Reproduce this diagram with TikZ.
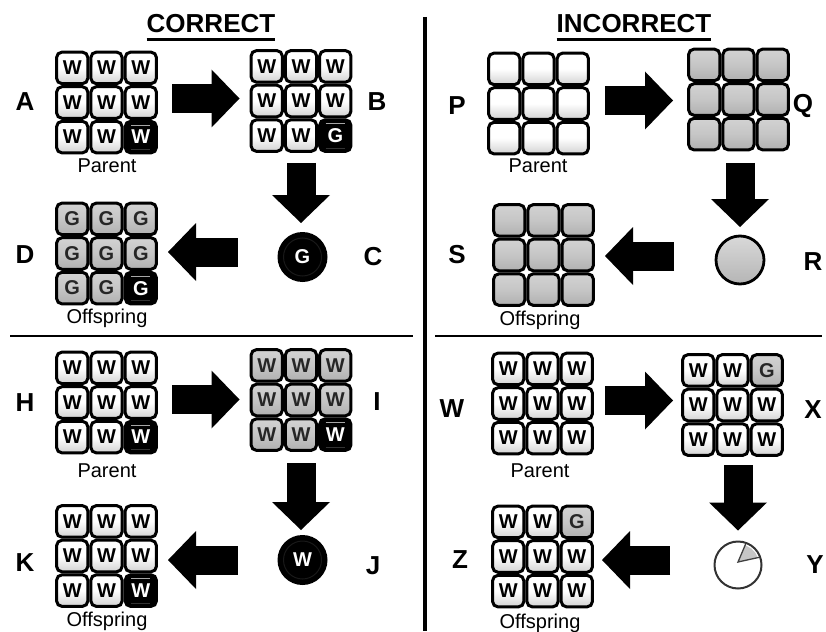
\documentclass[tikz,border=0pt]{standalone}
\usepackage{fontspec}
\setmainfont{Liberation Sans}
\usetikzlibrary{arrows.meta,calc}
\newcommand\cellgrid[4]{%
  \node[gridbox] (#1) at (#2,#3) {};
  \foreach \st/\tx [count=\i from 0] in {#4} {
    \pgfmathtruncatemacro\col{mod(\i,3)}
    \pgfmathtruncatemacro\row{div(\i,3)}
    \node[\st] (#1-\row-\col) at (#2+\col*34.3-34.3, #3+\row*34.6-34.6) {\tx};
  }%
}
\begin{document}
\begin{tikzpicture}[x=1pt,y=-1pt,
  gridbox/.style={minimum width=103pt, minimum height=104pt, inner sep=0pt, outer sep=0pt},
  cellbase/.style={draw=black, line width=3pt, rounded corners=5.5pt, minimum width=31.3pt, minimum height=31.6pt, inner sep=0pt, outer sep=0pt, font=\fontsize{20}{20}\selectfont\bfseries},
  cw/.style={cellbase, top color=white, bottom color=gray!35, middle color=white, text=black},
  cg/.style={cellbase, top color=gray!35, bottom color=gray!62, middle color=gray!45, text=black!85},
  cb/.style={cellbase, fill=black, text=white, text depth=-1.5pt, path picture={\draw[gray!70, line width=1.2pt] ([xshift=6pt,yshift=-4pt]path picture bounding box.north west) -- ([xshift=-6pt,yshift=-4pt]path picture bounding box.north east); \draw[gray!40!black, line width=1pt] ([xshift=6pt,yshift=3pt]path picture bounding box.south west) -- ([xshift=-6pt,yshift=3pt]path picture bounding box.south east);}},
  ttl/.style={font=\fontsize{26}{26}\selectfont\bfseries, inner sep=0pt},
  lbl/.style={font=\fontsize{26}{26}\selectfont\bfseries, inner sep=0pt},
  captxt/.style={font=\fontsize{20}{20}\selectfont, inner sep=0pt},
  barrow/.style={line width=29pt, -{Triangle[length=28pt, width=58pt, line width=0pt]}},
  bcirc/.style={circle, fill=black, minimum size=50pt, inner sep=0pt, outer sep=0pt, text=white, font=\fontsize{20}{20}\selectfont\bfseries, path picture={\draw[gray!20!black, line width=1pt] (path picture bounding box.center) circle[radius=19pt];}},
  gcirc/.style={circle, draw=black, line width=2.8pt, top color=gray!30, bottom color=gray!58, minimum size=48pt, inner sep=0pt, outer sep=0pt},
  pcirc/.style={circle, draw=black!80, line width=2pt, fill=white, minimum size=47pt, inner sep=0pt, outer sep=0pt}
]
\useasboundingbox (0,0) rectangle (826,631);
\fill[white] (0,0) rectangle (826,631);

% titles and dividers
\node[ttl] (t1) at (211,24) {CORRECT};
\node[ttl] (t2) at (634,24) {INCORRECT};
\draw[line width=3pt] ([yshift=-7pt]t1.base west) -- ([yshift=-7pt]t1.base east);
\draw[line width=3pt] ([yshift=-7pt]t2.base west) -- ([yshift=-7pt]t2.base east);
\draw[line width=4pt] (425,17) -- (425,631);
\draw[line width=2pt] (10,336) -- (413,336);
\draw[line width=2pt] (435,336) -- (822,336);

% grids
\cellgrid{A}{106.5}{102.5}{cw/W,cw/W,cw/W,cw/W,cw/W,cw/W,cw/W,cw/W,cb/W}
\cellgrid{B}{301}{101}{cw/W,cw/W,cw/W,cw/W,cw/W,cw/W,cw/W,cw/W,cb/G}
\cellgrid{D}{106.5}{253.5}{cg/G,cg/G,cg/G,cg/G,cg/G,cg/G,cg/G,cg/G,cb/G}
\cellgrid{H}{106.5}{402.5}{cw/W,cw/W,cw/W,cw/W,cw/W,cw/W,cw/W,cw/W,cb/W}
\cellgrid{I}{301}{400}{cg/W,cg/W,cg/W,cg/W,cg/W,cg/W,cg/W,cg/W,cb/W}
\cellgrid{K}{106.5}{556}{cw/W,cw/W,cw/W,cw/W,cw/W,cw/W,cw/W,cw/W,cb/W}
\cellgrid{P}{538.5}{103.5}{cw/{},cw/{},cw/{},cw/{},cw/{},cw/{},cw/{},cw/{},cw/{}}
\cellgrid{Q}{738.5}{99.5}{cg/{},cg/{},cg/{},cg/{},cg/{},cg/{},cg/{},cg/{},cg/{}}
\cellgrid{S}{543.5}{255}{cg/{},cg/{},cg/{},cg/{},cg/{},cg/{},cg/{},cg/{},cg/{}}
\cellgrid{W}{542.5}{403.5}{cw/W,cw/W,cw/W,cw/W,cw/W,cw/W,cw/W,cw/W,cw/W}
\cellgrid{X}{732.5}{405}{cw/W,cw/W,cg/G,cw/W,cw/W,cw/W,cw/W,cw/W,cw/W}
\cellgrid{Z}{542.5}{556.5}{cw/W,cw/W,cg/G,cw/W,cw/W,cw/W,cw/W,cw/W,cw/W}

% circles
\node[bcirc] (C) at (302.5,257) {G};
\node[bcirc] (J) at (302.5,560) {W};
\node[gcirc] (R) at (740,260) {};
\node[pcirc] (Y) at (738,565) {};
\fill[gray!45] ($(Y.center)+(0,-3)$) -- ($(Y.center)!0.9!(Y.20)$) -- ($(Y.center)!0.9!(Y.35)$) -- ($(Y.center)!0.9!(Y.50)$) -- ($(Y.center)!0.9!(Y.70)$) -- cycle;
\draw[black!75, line width=1.3pt] ($(Y.center)!0.95!(Y.20)$) -- ($(Y.center)+(0,-3)$) -- ($(Y.center)!0.95!(Y.70)$);

% letter labels
\node[lbl] (lA) at (25,102) {A};
\node[lbl] (lB) at (377,102) {B};
\node[lbl] (lC) at (373,257) {C};
\node[lbl] (lD) at (25,255) {D};
\node[lbl] (lH) at (25,403) {H};
\node[lbl] (lI) at (377,402) {I};
\node[lbl] (lJ) at (373,566) {J};
\node[lbl] (lK) at (25,563) {K};
\node[lbl] (lP) at (457,106) {P};
\node[lbl] (lQ) at (803,106) {Q};
\node[lbl] (lR) at (813,262) {R};
\node[lbl] (lS) at (457,255) {S};
\node[lbl] (lW) at (452,409) {W};
\node[lbl] (lX) at (813,410) {X};
\node[lbl] (lY) at (815,565) {Y};
\node[lbl] (lZ) at (460,560) {Z};

% captions
\node[captxt] (pA) at (107,166) {Parent};
\node[captxt] (oD) at (107,318) {Offspring};
\node[captxt] (pH) at (107,471) {Parent};
\node[captxt] (oK) at (107,621) {Offspring};
\node[captxt] (pP) at (538,166) {Parent};
\node[captxt] (oS) at (540,320) {Offspring};
\node[captxt] (pW) at (540,471) {Parent};
\node[captxt] (oZ) at (540,623) {Offspring};

% block arrows
\draw[barrow, shorten <=14pt, shorten >=10pt] ([yshift=4pt]A.east) -- ([yshift=4pt]A.east -| B.west);
\draw[barrow, shorten <=10pt, shorten >=9pt] (B.south) -- (B.south |- C.north);
\draw[barrow, shorten <=40pt, shorten >=10pt] ([yshift=5pt]C.west) -- ([yshift=5pt]C.west -| D.east);
\draw[barrow, shorten <=14pt, shorten >=10pt] ([yshift=3pt]H.east) -- ([yshift=3pt]H.east -| I.west);
\draw[barrow, shorten <=11pt, shorten >=5pt] (I.south) -- (I.south |- J.north);
\draw[barrow, shorten <=40pt, shorten >=10pt] (J.west) -- (J.west -| K.east);
\draw[barrow, shorten <=15pt, shorten >=14pt] ([yshift=3pt]P.east) -- ([yshift=3pt]P.east -| Q.west);
\draw[barrow, shorten <=11.5pt, shorten >=9pt] (Q.south -| R.north) -- (R.north);
\draw[barrow, shorten <=42pt, shorten >=10pt] ([yshift=4pt]R.west) -- ([yshift=4pt]R.west -| S.east);
\draw[barrow, shorten <=11pt, shorten >=8pt] ([yshift=3pt]W.east) -- ([yshift=3pt]W.east -| X.west);
\draw[barrow, shorten <=8pt, shorten >=11pt] (X.south -| Y.north) -- (Y.north);
\draw[barrow, shorten <=44.5pt, shorten >=8pt] ([yshift=5pt]Y.west) -- ([yshift=5pt]Y.west -| Z.east);
\end{tikzpicture}
\end{document}
